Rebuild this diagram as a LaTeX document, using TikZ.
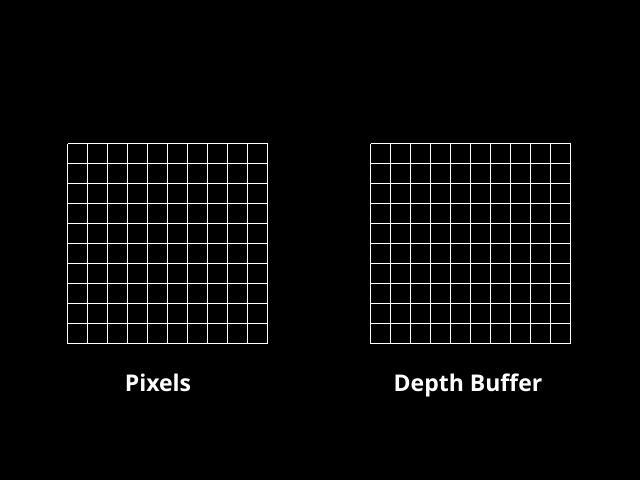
\documentclass[tikz,border=0pt]{standalone}
\usepackage{fontspec}
\setmainfont{Open Sans}
\begin{document}
\begin{tikzpicture}[x=1pt,y=-1pt,
  gridline/.style={white,line width=1pt},
  lbl/.style={white,font=\fontsize{23}{27}\selectfont\bfseries,inner sep=0pt,anchor=base}]
\fill[black] (0,0) rectangle (640,480);
\useasboundingbox (0,0) rectangle (640,480);
\foreach \ox in {67.5,370.5}{
  \foreach \i in {0,...,10}{
    \draw[gridline] (\ox+20*\i,143.5) -- (\ox+20*\i,343.5);
    \draw[gridline] (\ox,143.5+20*\i) -- (\ox+200,143.5+20*\i);
  }
}
\node[lbl] (pixels) at (158,391) {Pixels};
\node[lbl] (depth) at (468,391) {Depth Buffer};
\end{tikzpicture}
\end{document}
